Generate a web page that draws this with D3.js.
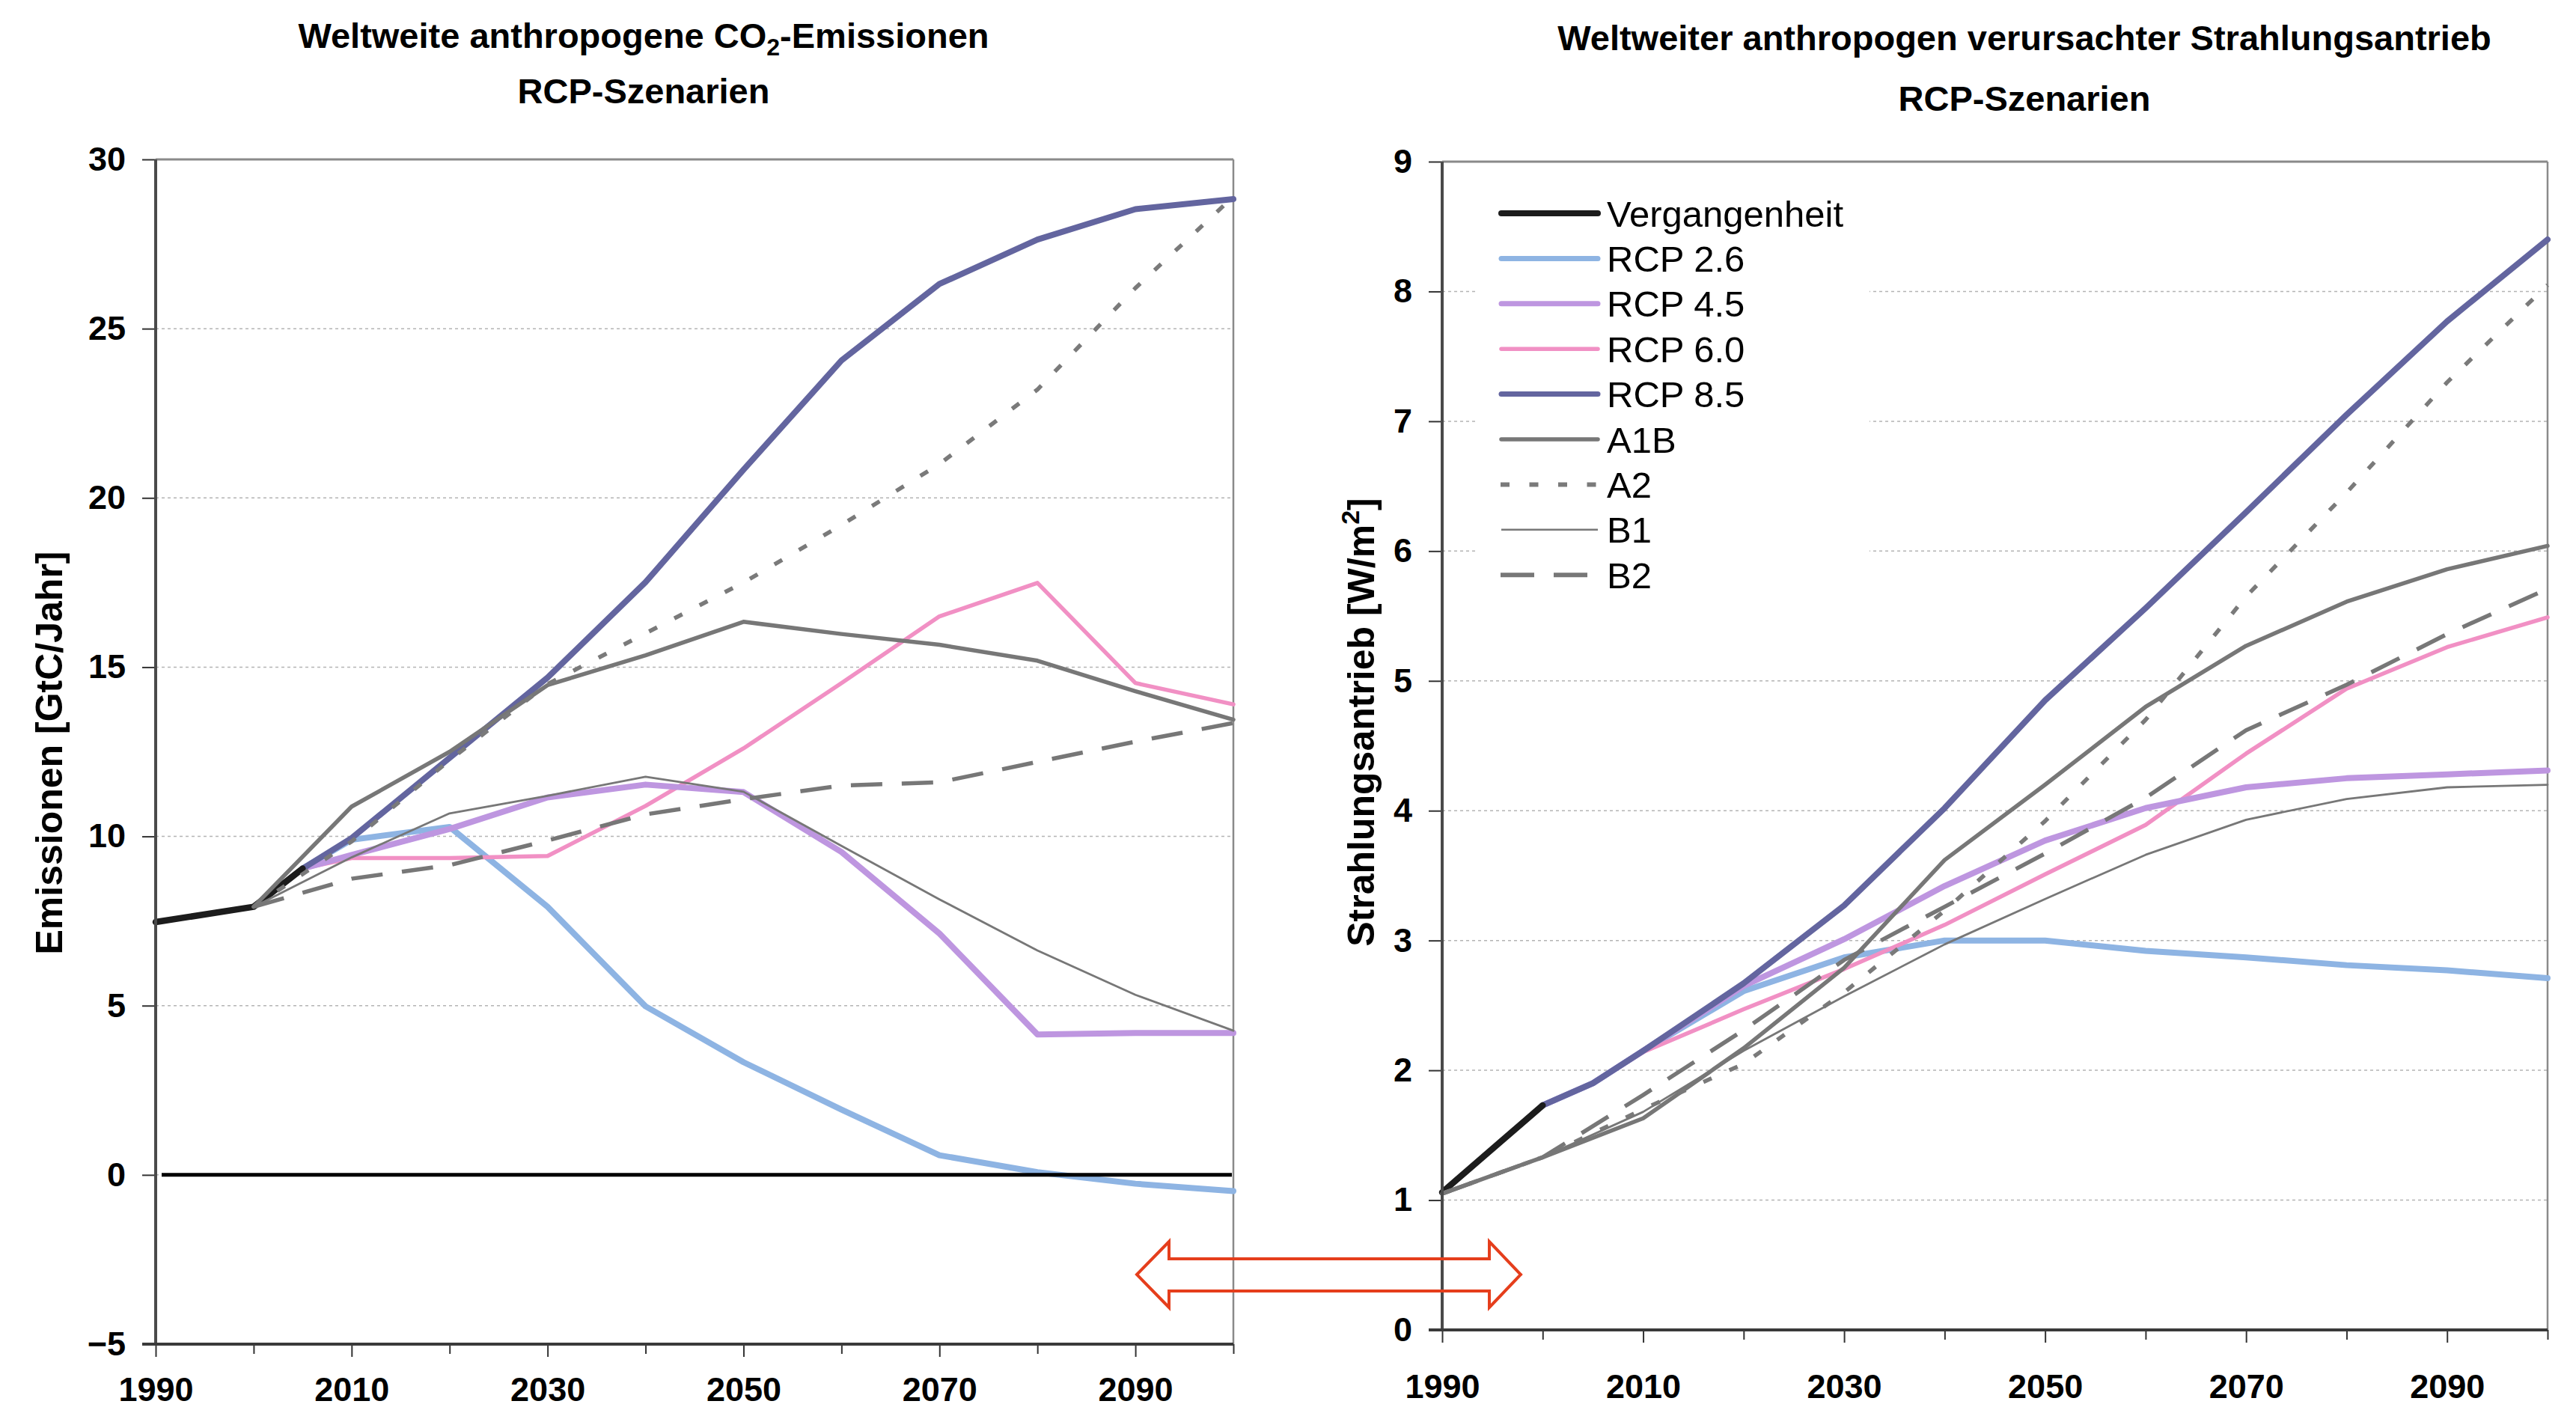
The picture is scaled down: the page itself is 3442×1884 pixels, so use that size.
<!DOCTYPE html>
<html><head><meta charset="utf-8">
<script src="https://cdn.jsdelivr.net/npm/d3@7"></script>
<style>
body{margin:0;background:#fff;}
svg{display:block;font-family:"Liberation Sans",Arial,sans-serif;}
</style>
</head><body>
<svg id="chart" width="3442" height="1884"></svg>
<script>
// ---------- DATA ----------
const years = [1990, 2000, 2005, 2010, 2020, 2030, 2040, 2050, 2060, 2070, 2080, 2090, 2100];

// Left: CO2 emissions [GtC/Jahr]
const emisHist  = [7.47, 7.92, 9.05, null, null, null, null, null, null, null, null, null, null];
const emisRCP26 = [null, null, 9.05, 9.9, 10.28, 7.92, 4.98, 3.33, 1.93, 0.58, 0.08, -0.26, -0.48];
const emisRCP45 = [null, null, 9.05, 9.45, 10.22, 11.15, 11.53, 11.31, 9.54, 7.13, 4.15, 4.19, 4.19];
const emisRCP60 = [null, null, 9.05, 9.36, 9.36, 9.42, 10.9, 12.6, 14.53, 16.5, 17.49, 14.53, 13.9];
const emisRCP85 = [null, null, 9.05, 9.95, 12.32, 14.69, 17.51, 20.83, 24.06, 26.32, 27.63, 28.53, 28.83];
const emisA1B   = [null, 7.92, null, 10.88, 12.5, 14.47, 15.35, 16.34, 15.98, 15.66, 15.19, 14.29, 13.45];
const emisA2    = [null, 7.92, null, 9.85, 12.25, 14.5, 16.0, 17.5, 19.2, 21.0, 23.2, 26.2, 28.9];
const emisB1    = [null, 7.92, null, 9.38, 10.68, 11.2, 11.76, 11.32, 9.72, 8.14, 6.63, 5.32, 4.26];
const emisB2    = [null, 7.92, null, 8.75, 9.15, 9.88, 10.65, 11.1, 11.5, 11.6, 12.2, 12.8, 13.35];

// Right: radiative forcing [W/m2]
const forcHist  = [1.06, 1.73, null, null, null, null, null, null, null, null, null, null, null];
const forcRCP26 = [null, 1.73, 1.9, 2.15, 2.61, 2.87, 3.0, 3.0, 2.92, 2.87, 2.81, 2.77, 2.71];
const forcRCP45 = [null, 1.73, 1.9, 2.15, 2.65, 3.01, 3.42, 3.77, 4.02, 4.18, 4.25, 4.28, 4.31];
const forcRCP60 = [null, 1.73, 1.9, 2.14, 2.47, 2.78, 3.12, 3.51, 3.89, 4.44, 4.94, 5.26, 5.49];
const forcRCP85 = [null, 1.73, 1.9, 2.15, 2.67, 3.27, 4.02, 4.85, 5.56, 6.3, 7.05, 7.77, 8.4];
const forcA1B   = [1.05, 1.33, null, 1.63, 2.17, 2.79, 3.62, 4.2, 4.8, 5.27, 5.61, 5.86, 6.04];
const forcA2    = [1.05, 1.33, null, 1.7, 2.05, 2.6, 3.23, 3.92, 4.7, 5.65, 6.45, 7.3, 8.05];
const forcB1    = [1.05, 1.33, null, 1.68, 2.15, 2.57, 2.97, 3.32, 3.66, 3.93, 4.09, 4.18, 4.2];
const forcB2    = [1.05, 1.33, null, 1.81, 2.31, 2.85, 3.26, 3.67, 4.1, 4.62, 4.97, 5.36, 5.71];

const seriesNames = ["Vergangenheit", "RCP 2.6", "RCP 4.5", "RCP 6.0", "RCP 8.5", "A1B", "A2", "B1", "B2"];
const emisTicks = [-5, 0, 5, 10, 15, 20, 25, 30];
const forcTicks = [0, 1, 2, 3, 4, 5, 6, 7, 8, 9];
const yearLabels = [1990, 2010, 2030, 2050, 2070, 2090];
const yearMinor = [2000, 2020, 2040, 2060, 2080, 2100];

const titleLeft1 = ["Weltweite anthropogene CO", "2", "-Emissionen"];
const titleLeft2 = "RCP-Szenarien";
const titleRight1 = "Weltweiter anthropogen verursachter Strahlungsantrieb";
const titleRight2 = "RCP-Szenarien";
const yTitleLeft = "Emissionen [GtC/Jahr]";
const yTitleRight = ["Strahlungsantrieb [W/m", "2", "]"];

// ---------- STYLES ----------
const style = {
  "Vergangenheit": {c: "#1c1c1c", w: 8.5, dash: null},
  "RCP 2.6": {c: "#8EB4E3", w: 8, dash: null},
  "RCP 4.5": {c: "#BE96E0", w: 8, dash: null},
  "RCP 6.0": {c: "#F190C4", w: 5.5, dash: null},
  "RCP 8.5": {c: "#63659F", w: 8, dash: null},
  "A1B": {c: "#777777", w: 5.5, dash: null},
  "A2": {c: "#7a7a7a", w: 5.5, dash: "12,26"},
  "B1": {c: "#777777", w: 2.8, dash: null},
  "B2": {c: "#777777", w: 5.5, dash: "42,26"}
};
const drawOrder = ["RCP 2.6", "RCP 6.0", "RCP 4.5", "RCP 8.5", "Vergangenheit", "A1B", "A2", "B1", "B2"];

const emisData = {"Vergangenheit": emisHist, "RCP 2.6": emisRCP26, "RCP 4.5": emisRCP45, "RCP 6.0": emisRCP60,
  "RCP 8.5": emisRCP85, "A1B": emisA1B, "A2": emisA2, "B1": emisB1, "B2": emisB2};
const forcData = {"Vergangenheit": forcHist, "RCP 2.6": forcRCP26, "RCP 4.5": forcRCP45, "RCP 6.0": forcRCP60,
  "RCP 8.5": forcRCP85, "A1B": forcA1B, "A2": forcA2, "B1": forcB1, "B2": forcB2};

const svg = d3.select("#chart");
const font = "'Liberation Sans',Arial,sans-serif";

function pts(vals) { return years.map((y, i) => [y, vals[i]]).filter(d => d[1] != null); }

function panel(cfg) {
  const g = svg.append("g");
  const x = d3.scaleLinear().domain([1990, 2100]).range([cfg.x0, cfg.x1]);
  const y = d3.scaleLinear().domain([cfg.ticks[0], cfg.ticks[cfg.ticks.length - 1]]).range([cfg.yb, cfg.yt]);

  g.append("g").selectAll("line").data(cfg.ticks.slice(1, -1)).join("line")
    .attr("x1", cfg.x0).attr("x2", cfg.x1).attr("y1", d => y(d)).attr("y2", d => y(d))
    .attr("stroke", "#b4b4b4").attr("stroke-width", 1.5).attr("stroke-dasharray", "4,4");

  g.append("line").attr("x1", cfg.x0).attr("x2", cfg.x1).attr("y1", cfg.yt).attr("y2", cfg.yt)
    .attr("stroke", "#8a8a8a").attr("stroke-width", 3);
  g.append("line").attr("x1", cfg.x1).attr("x2", cfg.x1).attr("y1", cfg.yt).attr("y2", cfg.yb)
    .attr("stroke", "#8a8a8a").attr("stroke-width", 2.5);

  return {g, x, y};
}

function drawSeries(p, data) {
  const line = d3.line().x(d => p.x(d[0])).y(d => p.y(d[1]));
  drawOrder.forEach(name => {
    const s = style[name];
    p.g.append("path").datum(pts(data[name])).attr("d", line)
      .attr("fill", "none").attr("stroke", s.c).attr("stroke-width", s.w)
      .attr("stroke-linejoin", "round").attr("stroke-linecap", s.dash ? "butt" : "round")
      .attr("stroke-dasharray", s.dash);
  });
}

function drawAxes(p, cfg) {
  const ya = p.g.append("g").attr("transform", `translate(${cfg.x0},0)`)
    .call(d3.axisLeft(p.y).tickValues(cfg.ticks).tickSize(18).tickPadding(22).tickFormat(d3.format("d")));
  ya.select(".domain").remove();
  ya.selectAll(".tick line").attr("stroke", "#333").attr("stroke-width", 2);
  ya.selectAll(".tick text").attr("font-family", font).attr("font-size", 45).attr("font-weight", "bold").attr("fill", "#000");

  const xm = p.g.append("g").attr("transform", `translate(0,${cfg.yb})`)
    .call(d3.axisBottom(p.x).tickValues(yearMinor).tickSize(13).tickFormat(""));
  xm.select(".domain").remove();
  xm.selectAll(".tick line").attr("stroke", "#333").attr("stroke-width", 2);
  const xa = p.g.append("g").attr("transform", `translate(0,${cfg.yb})`)
    .call(d3.axisBottom(p.x).tickValues(yearLabels).tickSize(17).tickPadding(cfg.xPad).tickFormat(d3.format("d")));
  xa.select(".domain").remove();
  xa.selectAll(".tick line").attr("stroke", "#333").attr("stroke-width", 2);
  xa.selectAll(".tick text").attr("font-family", font).attr("font-size", 45).attr("font-weight", "bold").attr("fill", "#000");

  p.g.append("line").attr("x1", cfg.x0).attr("x2", cfg.x0).attr("y1", cfg.yt).attr("y2", cfg.yb + 1)
    .attr("stroke", "#4a4a4a").attr("stroke-width", 4);
  p.g.append("line").attr("x1", cfg.x0 - 18).attr("x2", cfg.x1).attr("y1", cfg.yb).attr("y2", cfg.yb)
    .attr("stroke", "#3a3a3a").attr("stroke-width", 4);
}

// ---------- LEFT PANEL ----------
const cfgL = {x0: 208, x1: 1648, yt: 213, yb: 1796, ticks: emisTicks, xPad: 27};
const pL = panel(cfgL);
drawSeries(pL, emisData);
pL.g.append("line").attr("x1", cfgL.x0 + 8).attr("x2", cfgL.x1 - 2).attr("y1", pL.y(0)).attr("y2", pL.y(0))
  .attr("stroke", "#000").attr("stroke-width", 5);
drawAxes(pL, cfgL);

// ---------- RIGHT PANEL ----------
const cfgR = {x0: 1927, x1: 3404, yt: 216, yb: 1777, ticks: forcTicks, xPad: 42};
const pR = panel(cfgR);
pR.g.append("rect").attr("x", 1972).attr("y", 240).attr("width", 526).attr("height", 565).attr("fill", "#fff");
drawSeries(pR, forcData);
drawAxes(pR, cfgR);

// legend
const leg = svg.append("g");
const legW = {"Vergangenheit": 8, "RCP 2.6": 7, "RCP 4.5": 7, "RCP 6.0": 5.5, "RCP 8.5": 7, "A1B": 5.5, "A2": 6, "B1": 2.5, "B2": 6};
const legDash = {"A2": "12,26.5", "B2": "45,26"};
seriesNames.forEach((name, i) => {
  const s = style[name];
  const cy = 285 + i * 60.4;
  leg.append("line").attr("x1", legDash[name] ? 2005 : 2006).attr("x2", 2135).attr("y1", cy).attr("y2", cy)
    .attr("stroke", s.c).attr("stroke-width", legW[name])
    .attr("stroke-linecap", legDash[name] || name === "B1" ? "butt" : "round")
    .attr("stroke-dasharray", legDash[name] || null);
  leg.append("text").attr("x", 2147).attr("y", cy).attr("dy", "0.36em")
    .attr("font-family", font).attr("font-size", 49).attr("fill", "#000").text(name);
});

// ---------- TITLES ----------
const tL1 = svg.append("text").attr("x", 860).attr("y", 64).attr("text-anchor", "middle")
  .attr("font-family", font).attr("font-size", 47).attr("font-weight", "bold");
tL1.append("tspan").text(titleLeft1[0]);
tL1.append("tspan").attr("dy", 10).attr("font-size", 32).text(titleLeft1[1]);
tL1.append("tspan").attr("dy", -10).text(titleLeft1[2]);
svg.append("text").attr("x", 860).attr("y", 138).attr("text-anchor", "middle")
  .attr("font-family", font).attr("font-size", 47).attr("font-weight", "bold").text(titleLeft2);

svg.append("text").attr("x", 2705).attr("y", 67).attr("text-anchor", "middle")
  .attr("font-family", font).attr("font-size", 47).attr("font-weight", "bold").text(titleRight1);
svg.append("text").attr("x", 2705).attr("y", 148).attr("text-anchor", "middle")
  .attr("font-family", font).attr("font-size", 47).attr("font-weight", "bold").text(titleRight2);

svg.append("text").attr("transform", "translate(65,1006) rotate(-90)").attr("text-anchor", "middle").attr("dy", "0.36em")
  .attr("font-family", font).attr("font-size", 50).attr("font-weight", "bold").text(yTitleLeft);
const yr = svg.append("text").attr("transform", "translate(1818,965) rotate(-90)").attr("text-anchor", "middle").attr("dy", "0.36em")
  .attr("font-family", font).attr("font-size", 50).attr("font-weight", "bold");
yr.append("tspan").text(yTitleRight[0]);
yr.append("tspan").attr("dy", -20).attr("font-size", 34).text(yTitleRight[1]);
yr.append("tspan").attr("dy", 20).text(yTitleRight[2]);

// ---------- DOUBLE ARROW ----------
const arrowPts = [[1519, 1703], [1562, 1659], [1562, 1682], [1990, 1682], [1990, 1659], [2032, 1703],
  [1990, 1747], [1990, 1725], [1562, 1725], [1562, 1747]];
svg.append("path").attr("d", d3.line()(arrowPts) + "Z")
  .attr("fill", "none").attr("stroke", "#E53E1C").attr("stroke-width", 4).attr("stroke-linejoin", "miter");
</script>
</body></html>
